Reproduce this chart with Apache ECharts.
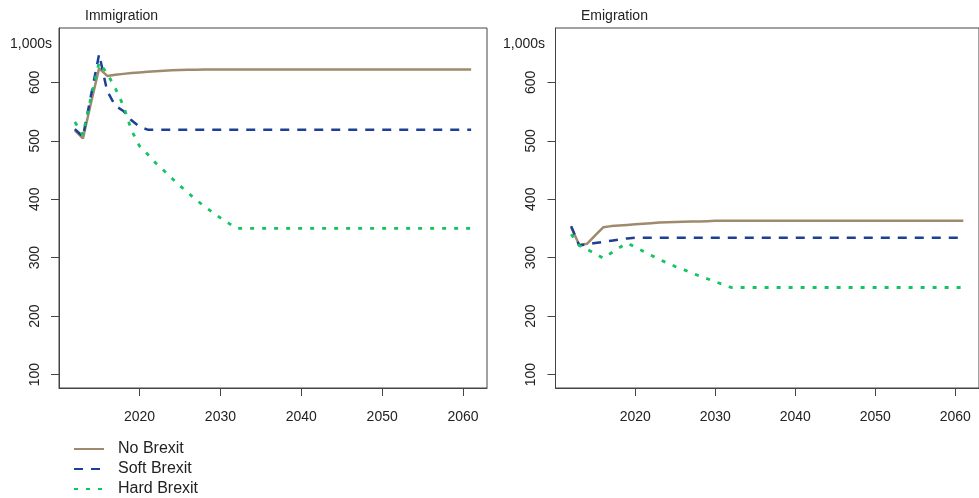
<!DOCTYPE html>
<html>
<head>
<meta charset="utf-8">
<script src="https://cdn.jsdelivr.net/npm/echarts@6/dist/echarts.min.js"></script>
<style>
html,body{margin:0;padding:0;background:#fff;}
#chart{width:979px;height:498px;}
</style>
</head>
<body>
<div id="chart"></div>
<script>
// ---- data ----
var years = [2012,2013,2014,2015,2016,2017,2018,2019,2020,2021,2022,2023,2024,2025,2026,2027,2028,2029,2030,2031,2032,2033,2034,2035,2036,2037,2038,2039,2040,2041,2042,2043,2044,2045,2046,2047,2048,2049,2050,2051,2052,2053,2054,2055,2056,2057,2058,2059,2060,2061];
var seriesNames = ['No Brexit','Soft Brexit','Hard Brexit'];
var panelTitles = ['Immigration','Emigration'];
var unitLabel = '1,000s';
var yTicks = [100,200,300,400,500,600];
var xTicks = [2020,2030,2040,2050,2060];

var immNo   = [518,504,565,624,611,613,614.5,616,617,618,619,620,620.5,621,621.5,621.5,622,622,622,622,622,622,622,622,622,622,622,622,622,622,622,622,622,622,622,622,622,622,622,622,622,622,622,622,622,622,622,622,622,622];
var immSoft = [520,507,578,648,585,560,551,535,524,519,519,519,519,519,519,519,519,519,519,519,519,519,519,519,519,519,519,519,519,519,519,519,519,519,519,519,519,519,519,519,519,519,519,519,519,519,519,519,519,519];
var immHard = [532,510,575,634,615,590,560,518,491,477,462,449,436,423,411,399,388,378,368,359,350,350,350,350,350,350,350,350,350,350,350,350,350,350,350,350,350,350,350,350,350,350,350,350,350,350,350,350,350,350];

var emiNo   = [352,322,324,338,352,354,355,356,357,358,359,360,360.5,361,361.5,362,362,362.5,363,363,363,363,363,363,363,363,363,363,363,363,363,363,363,363,363,363,363,363,363,363,363,363,363,363,363,363,363,363,363,363];
var emiSoft = [354,321,323,325,327,329,331,333,334,334,334,334,334,334,334,334,334,334,334,334,334,334,334,334,334,334,334,334,334,334,334,334,334,334,334,334,334,334,334,334,334,334,334,334,334,334,334,334,334,334];
var emiHard = [340,321,314,307,299,308,317,325,318,311,304,297,291,285,280,274,269,264,259,254,249,249,249,249,249,249,249,249,249,249,249,249,249,249,249,249,249,249,249,249,249,249,249,249,249,249,249,249,249,249];

// ---- styles ----
var FONT = 'Liberation Sans, Arial, Helvetica, sans-serif';
var styles = [
  {color:'#9f8a6d', type:'solid', width:2.5},
  {color:'#1d3f95', type:[9,8], width:2.5},
  {color:'#14c463', type:[4,8], width:2.8}
];

function pairs(vals){ return years.map(function(y,i){ return [y, vals[i]]; }); }

var grids = [
  {left:59, top:28, width:428, height:360},
  {left:555.5, top:28, width:428, height:360}
];

function mkX(idx){
  return {
    type:'value', gridIndex:idx, min:2010.04, max:2062.96,
    splitLine:{show:false},
    axisLine:{show:true, lineStyle:{color:'#444', width:1}},
    axisTick:{show:true, length:8, customValues:xTicks, lineStyle:{color:'#444'}},
    axisLabel:{show:true, customValues:xTicks, fontSize:14, fontFamily:FONT, color:'#222', margin:22,
      formatter:function(v){ return String(Math.round(v)); }}
  };
}
function mkY(idx){
  return {
    type:'value', gridIndex:idx, min:77, max:693,
    splitLine:{show:false},
    axisLine:{show:true, lineStyle:{color:'#444', width:1}},
    axisTick:{show:true, length:8, customValues:yTicks, lineStyle:{color:'#444'}},
    axisLabel:{show:true, customValues:yTicks, rotate:90, fontSize:14, fontFamily:FONT, color:'#222', margin:17,
      formatter:function(v){ return String(Math.round(v)); }}
  };
}

var panelData = [[immNo, immSoft, immHard],[emiNo, emiSoft, emiHard]];
var series = [];
panelData.forEach(function(set, p){
  set.forEach(function(vals, k){
    series.push({
      name: seriesNames[k], type:'line', xAxisIndex:p, yAxisIndex:p,
      data: pairs(vals), symbol:'none', showSymbol:false, smooth:false,
      lineStyle:{color:styles[k].color, type:styles[k].type, width:styles[k].width},
      itemStyle:{color:styles[k].color},
      z: 2 + k
    });
  });
});

var tStyle = {fontSize:14, fontWeight:'normal', fontFamily:FONT, color:'#222'};
var chart = echarts.init(document.getElementById('chart'), null, {renderer:'canvas'});
chart.setOption({
  animation:false,
  backgroundColor:'#fff',
  title:[
    {text:panelTitles[0], left:80, top:4, textStyle:tStyle},
    {text:panelTitles[1], left:576, top:4, textStyle:tStyle},
    {text:unitLabel, left:5, top:32, textStyle:tStyle},
    {text:unitLabel, left:498, top:32, textStyle:tStyle}
  ],
  grid: grids.map(function(g){ return Object.assign({show:true, borderColor:'#444', borderWidth:1, backgroundColor:'transparent'}, g); }),
  xAxis:[mkX(0), mkX(1)],
  yAxis:[mkY(0), mkY(1)],
  legend:{
    orient:'vertical', left:73, top:441, padding:0, height:60,
    itemWidth:30, itemHeight:14, itemGap:4,
    itemStyle:{opacity:0, borderWidth:0},
    data:seriesNames,
    textStyle:{fontSize:16, fontFamily:FONT, color:'#222', padding:[0,0,0,9], lineHeight:16},
    selectedMode:false
  },
  series:series
});
</script>
</body>
</html>
